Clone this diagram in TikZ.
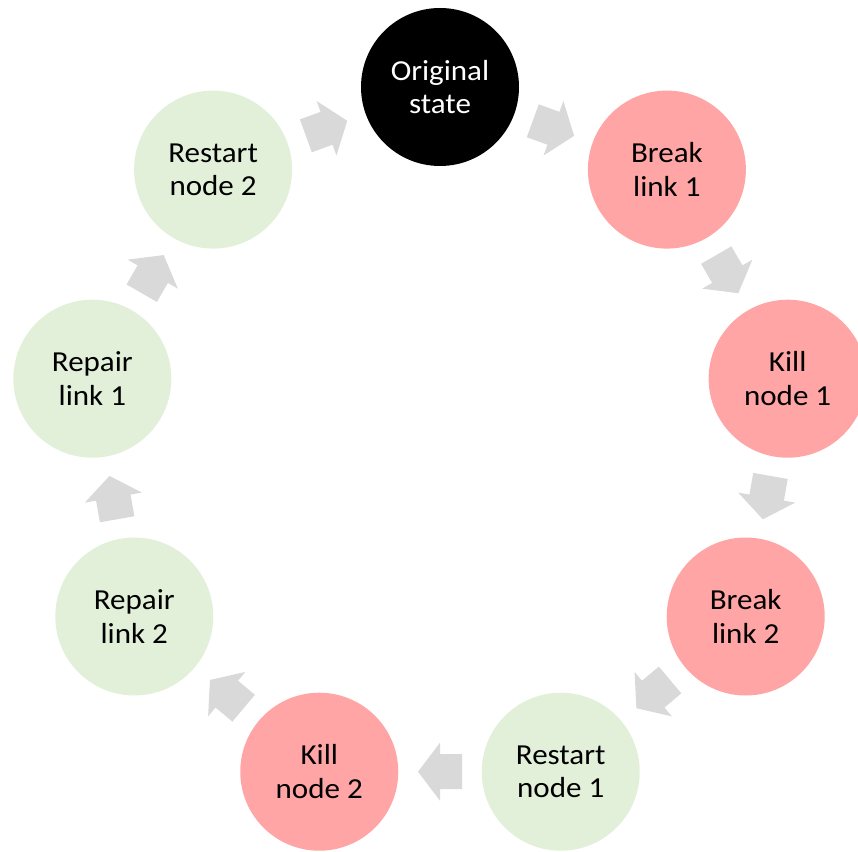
\documentclass[tikz,border=0pt]{standalone}
\usepackage{fontspec}
\setmainfont{Carlito}[FakeStretch=1.07]
\usetikzlibrary{calc}
\definecolor{pinkfill}{HTML}{FFA5A5}
\definecolor{greenfill}{HTML}{E2F0D9}
\definecolor{arrowgray}{HTML}{D9D9D9}
\tikzset{
  stage/.style={circle, minimum size=158pt, inner sep=0pt, align=center,
    font={\fontsize{29}{33.5}\selectfont}},
  badstage/.style={stage, fill=pinkfill, text=black},
  goodstage/.style={stage, fill=greenfill, text=black},
  origstage/.style={stage, fill=black, text=white},
}
\newcommand{\blockarrow}[3]{%
  \begin{scope}[shift={($(#1)!0.5!(#2)$)}, rotate=#3]
    \fill[arrowgray] (-22,-17.5) -- (0,-17.5) -- (0,-29) -- (22,0) -- (0,29) -- (0,17.5) -- (-22,17.5) -- cycle;
  \end{scope}}
\begin{document}
\begin{tikzpicture}[x=1pt,y=1pt]
\useasboundingbox (-440,-411) rectangle (418,440);
\clip (-440,-411) rectangle (418,440);
\node[origstage] (n0) at (90:353) {Original\\state};
\node[badstage]  (n1) at (50:353) {Break\\link 1};
\node[badstage]  (n2) at (10:353) {Kill\\node 1};
\node[badstage]  (n3) at (-30:353) {Break\\link 2};
\node[goodstage] (n4) at (-70:353) {Restart\\node 1};
\node[badstage]  (n5) at (-110:353) {Kill\\node 2};
\node[goodstage] (n6) at (-150:353) {Repair\\link 2};
\node[goodstage] (n7) at (170:353) {Repair\\link 1};
\node[goodstage] (n8) at (130:353) {Restart\\node 2};
\blockarrow{n0}{n1}{-20}
\blockarrow{n1}{n2}{-60}
\blockarrow{n2}{n3}{-100}
\blockarrow{n3}{n4}{-140}
\blockarrow{n4}{n5}{-180}
\blockarrow{n5}{n6}{-220}
\blockarrow{n6}{n7}{-260}
\blockarrow{n7}{n8}{-300}
\blockarrow{n8}{n0}{-340}
\end{tikzpicture}
\end{document}
